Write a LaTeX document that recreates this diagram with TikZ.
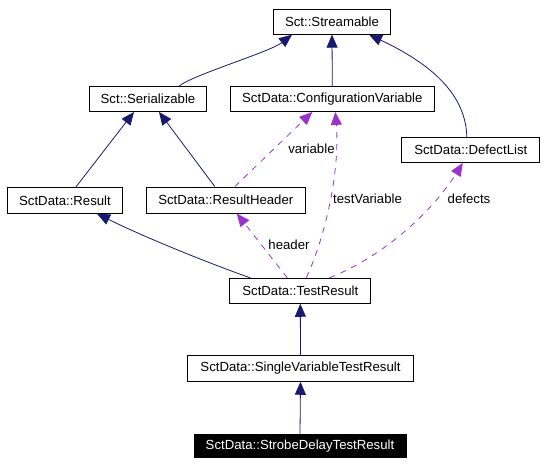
\documentclass[tikz,border=0pt]{standalone}
\usepackage{fontspec}
\setmainfont{Liberation Sans}
\usetikzlibrary{arrows.meta}
\definecolor{inhblue}{HTML}{191970}
\definecolor{usepurple}{HTML}{9A32CD}
\begin{document}
\begin{tikzpicture}[x=1pt, y=-1pt, >={Triangle[length=13pt,width=11pt]},
    cls/.style={draw, line width=.9pt, inner sep=0pt, minimum height=25pt, font=\fontsize{13.2}{15}\selectfont},
    inh/.style={->, inhblue, line width=.8pt},
    usage/.style={->, usepurple, line width=.8pt, dash pattern=on 6pt off 6pt},
    lbl/.style={inner sep=0pt, font=\fontsize{13.2}{15}\selectfont}]
\useasboundingbox (0,0) rectangle (545,465);
% classes
\node[cls, minimum width=117pt] (stream) at (332,21.7) {Sct::Streamable};
\node[cls, minimum width=117pt] (serial) at (148,99) {Sct::Serializable};
\node[cls, minimum width=204pt] (confvar) at (332.3,99) {SctData::ConfigurationVariable};
\node[cls, minimum width=138pt] (defect) at (470.8,150) {SctData::DefectList};
\node[cls, minimum width=115pt, minimum height=26pt] (result) at (65,200.3) {SctData::Result};
\node[cls, minimum width=159pt, minimum height=26pt] (rheader) at (225.8,200) {SctData::ResultHeader};
\node[cls, minimum width=141pt] (testres) at (300.3,290.8) {SctData::TestResult};
\node[cls, minimum width=226pt, minimum height=26pt] (single) at (300.5,368.3) {SctData::SingleVariableTestResult};
\node[cls, minimum width=212pt, minimum height=23pt, fill=black, text=white] (strobe) at (300,446) {SctData::StrobeDelayTestResult};

% inheritance
\draw[inh] ([xshift=31pt]serial.north) .. controls (195,74) and (270,52) .. ([xshift=-40pt]stream.south);
\draw[inh] (confvar.north) -- (stream.south);
\draw[inh] ([xshift=-4pt]defect.north) .. controls (466,100) and (440,68) .. ([xshift=37pt]stream.south);
\draw[inh] ([xshift=11pt]result.north) -- ([xshift=-14pt]serial.south);
\draw[inh] ([xshift=-11pt]rheader.north) -- ([xshift=11pt]serial.south);
\draw[inh] ([xshift=-50pt]testres.north) .. controls (200,260) and (140,235) .. ([xshift=32pt]result.south);
\draw[inh] (single.north) -- (testres.south);
\draw[inh] (strobe.north) -- (single.south);

% members
\draw[usage] ([xshift=9pt]rheader.north) -- ([xshift=-20pt]confvar.south);
\draw[usage] ([xshift=-13pt]testres.north) -- ([xshift=11pt]rheader.south);
\draw[usage] ([xshift=6pt]testres.north) .. controls (326,235) and (340,170) .. ([xshift=3pt]confvar.south);
\draw[usage] ([xshift=29pt]testres.north) .. controls (380,258) and (430,215) .. ([xshift=-8pt]defect.south);
\node[lbl] (lvariable) at (311.5,148.5) {variable};
\node[lbl] (lheader) at (289,245) {header};
\node[lbl] (ltestvar) at (367.5,199) {testVariable};
\node[lbl] (ldefects) at (469,199) {defects};

\end{tikzpicture}
\end{document}
